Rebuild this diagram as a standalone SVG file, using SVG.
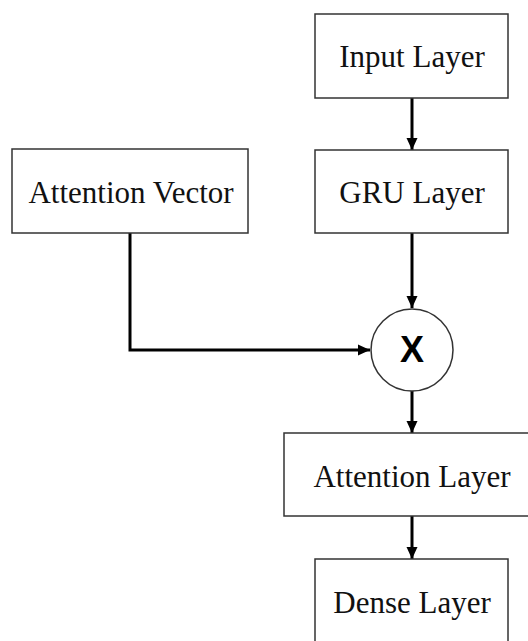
<svg xmlns="http://www.w3.org/2000/svg" width="528" height="641" viewBox="0 0 528 641">
<style>
.box{fill:#fff;stroke:#333;stroke-width:1.5}
.lbl{font-family:"Liberation Serif","Times New Roman",serif;font-size:31px;fill:#111;text-anchor:middle}
.conn{fill:none;stroke:#000;stroke-width:3}
</style>
<defs>
<marker id="ah" markerUnits="userSpaceOnUse" markerWidth="12" markerHeight="12" viewBox="0 0 12 12" refX="12" refY="6" orient="auto">
<path d="M0,0.5 L12,6 L0,11.5 Z" fill="#000"/>
</marker>
</defs>
<rect width="528" height="641" fill="#fff"/>
<g id="connectors">
<line class="conn" x1="412" y1="98" x2="412" y2="150" marker-end="url(#ah)"/>
<line class="conn" x1="412" y1="233" x2="412" y2="308" marker-end="url(#ah)"/>
<polyline class="conn" points="130,233 130,350 370,350" marker-end="url(#ah)"/>
<line class="conn" x1="412" y1="391" x2="412" y2="433" marker-end="url(#ah)"/>
<line class="conn" x1="412" y1="516" x2="412" y2="559" marker-end="url(#ah)"/>
</g>
<g id="input-layer">
<rect class="box" x="315" y="14" width="193" height="84"/>
<text class="lbl" x="412" y="67">Input Layer</text>
</g>
<g id="gru-layer">
<rect class="box" x="315" y="150" width="193" height="83"/>
<text class="lbl" x="412" y="203">GRU Layer</text>
</g>
<g id="attention-vector">
<rect class="box" x="12" y="149" width="236" height="84"/>
<text class="lbl" x="131" y="203">Attention Vector</text>
</g>
<g id="multiply">
<circle cx="412" cy="350" r="41" fill="#fff" stroke="#333" stroke-width="1.5"/>
<text x="412" y="362" font-family="Liberation Sans, Arial, sans-serif" font-weight="bold" font-size="36" text-anchor="middle" fill="#000">X</text>
</g>
<g id="attention-layer">
<rect class="box" x="284" y="433" width="250" height="83"/>
<text class="lbl" x="412" y="487">Attention Layer</text>
</g>
<g id="dense-layer">
<rect class="box" x="315" y="559" width="193" height="90"/>
<text class="lbl" x="412" y="613">Dense Layer</text>
</g>
</svg>
